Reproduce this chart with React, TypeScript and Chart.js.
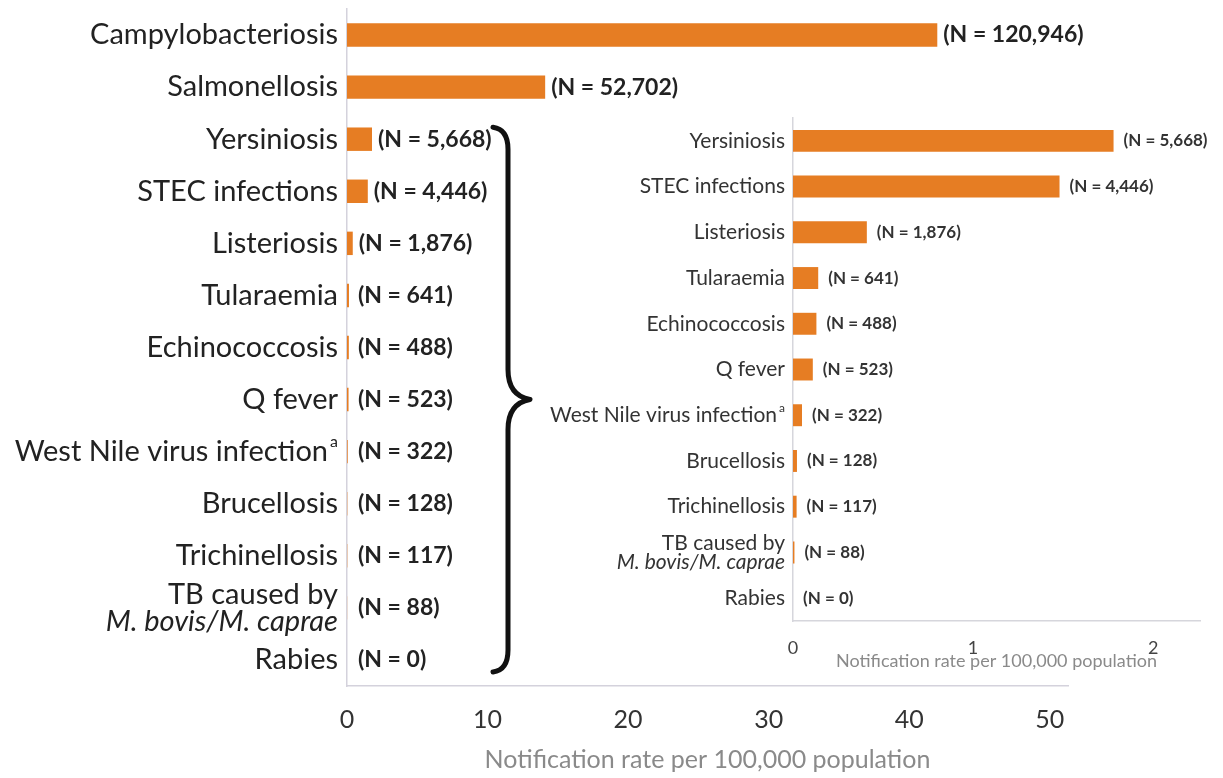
import React, { useEffect, useRef } from "react";
import { Chart, registerables } from "chart.js";

Chart.register(...registerables);

// ---------- data ----------
const mainCategories: (string | string[])[] = [
  "Campylobacteriosis",
  "Salmonellosis",
  "Yersiniosis",
  "STEC infections",
  "Listeriosis",
  "Tularaemia",
  "Echinococcosis",
  "Q fever",
  "West Nile virus infection",
  "Brucellosis",
  "Trichinellosis",
  ["TB caused by", "M. bovis/M. caprae"],
  "Rabies",
];
const mainRates = [42.0, 14.1, 1.78, 1.48, 0.41, 0.14, 0.13, 0.11, 0.05, 0.022, 0.02, 0.008, 0];
const mainCounts = [120946, 52702, 5668, 4446, 1876, 641, 488, 523, 322, 128, 117, 88, 0];
const mainTicks = [0, 10, 20, 30, 40, 50];

const insetCategories: (string | string[])[] = [
  "Yersiniosis",
  "STEC infections",
  "Listeriosis",
  "Tularaemia",
  "Echinococcosis",
  "Q fever",
  "West Nile virus infection",
  "Brucellosis",
  "Trichinellosis",
  ["TB caused by", "M. bovis/M. caprae"],
  "Rabies",
];
const insetRates = [1.78, 1.48, 0.41, 0.14, 0.13, 0.11, 0.05, 0.022, 0.02, 0.008, 0];
const insetCounts = [5668, 4446, 1876, 641, 488, 523, 322, 128, 117, 88, 0];
const insetTicks = [0, 1, 2];

const footnoteMarks: Record<string, string> = { "West Nile virus infection": "a" };
const axisTitle = "Notification rate per 100,000 population";

const BAR = "rgb(230,125,35)";
const FONT = "Lato, 'Open Sans', sans-serif";

// ---------- plugins ----------
function yLabelPlugin(o: { labels: (string | string[])[]; size: number; gap: number; lineHeight: number; color: string }) {
  return {
    id: "customYLabels",
    afterDraw(chart: any) {
      const ctx = chart.ctx;
      const ys = chart.scales.y;
      const x0 = chart.chartArea.left - o.gap;
      ctx.save();
      ctx.fillStyle = o.color;
      ctx.textAlign = "right";
      ctx.textBaseline = "middle";
      o.labels.forEach((lab, i) => {
        const py = ys.getPixelForValue(i);
        const lines = Array.isArray(lab) ? lab : [lab];
        lines.forEach((line, j) => {
          const ly = py + (j - (lines.length - 1) / 2) * o.lineHeight;
          const mark = footnoteMarks[line];
          let x = x0;
          if (mark) {
            ctx.font = `${Math.round(o.size * 0.55)}px ${FONT}`;
            const mw = ctx.measureText(mark).width;
            ctx.fillText(mark, x, ly - o.size * 0.35);
            x -= mw + 2;
          }
          ctx.font = `${j > 0 ? "italic " : ""}${o.size}px ${FONT}`;
          ctx.fillText(line, x, ly);
        });
      });
      ctx.restore();
    },
  };
}

function countLabelPlugin(o: { counts: number[]; size: number; gap: number; minOffset: number; color: string }) {
  return {
    id: "countLabels",
    afterDatasetsDraw(chart: any) {
      const ctx = chart.ctx;
      const meta = chart.getDatasetMeta(0);
      const left = chart.chartArea.left;
      ctx.save();
      ctx.fillStyle = o.color;
      ctx.textAlign = "left";
      ctx.textBaseline = "middle";
      ctx.font = `bold ${o.size}px ${FONT}`;
      meta.data.forEach((bar: any, i: number) => {
        const x = Math.max(bar.x + o.gap, left + o.minOffset);
        ctx.fillText(`(N = ${o.counts[i].toLocaleString("en-US")})`, x, bar.y);
      });
      ctx.restore();
    },
  };
}

const bracePlugin = {
  id: "brace",
  afterDraw(chart: any) {
    const ctx = chart.ctx;
    const ys = chart.scales.y;
    const top = ys.getPixelForValue(2) - 12;
    const bot = ys.getPixelForValue(12) + 12;
    const mid = (top + bot) / 2;
    const sx = chart.chartArea.left + 161;
    const lx = sx - 15;
    const tx = sx + 22;
    ctx.save();
    ctx.strokeStyle = "#111";
    ctx.lineWidth = 5;
    ctx.lineCap = "round";
    ctx.lineJoin = "round";
    ctx.beginPath();
    ctx.moveTo(lx, top);
    ctx.quadraticCurveTo(sx, top + 2, sx, top + 22);
    ctx.lineTo(sx, mid - 30);
    ctx.quadraticCurveTo(sx, mid - 4, tx, mid);
    ctx.quadraticCurveTo(sx, mid + 4, sx, mid + 30);
    ctx.lineTo(sx, bot - 22);
    ctx.quadraticCurveTo(sx, bot - 2, lx, bot);
    ctx.stroke();
    ctx.restore();
  },
};

// ---------- component ----------
export default function App() {
  const mainRef = useRef<HTMLCanvasElement>(null);
  const insetRef = useRef<HTMLCanvasElement>(null);

  useEffect(() => {
    Chart.defaults.font.family = FONT;
    const main = new Chart(mainRef.current!, {
      type: "bar",
      data: {
        labels: mainCategories.map((c) => (Array.isArray(c) ? c.join(" ") : c)),
        datasets: [
          {
            data: mainRates,
            backgroundColor: BAR,
            borderWidth: 0,
            categoryPercentage: 1,
            barPercentage: 0.45,
          },
        ],
      },
      options: {
        indexAxis: "y",
        animation: false,
        responsive: false,
        layout: { padding: { top: 9, right: 155, bottom: 0, left: 0 } },
        plugins: { legend: { display: false }, tooltip: { enabled: false } },
        scales: {
          y: {
            ticks: { display: false },
            grid: { display: false },
            border: { display: true, color: "#d4d2dc", width: 1.5 },
            afterFit: (s: any) => {
              s.width = 347;
            },
          },
          x: {
            type: "linear",
            min: 0,
            max: 51.3,
            afterBuildTicks: (s: any) => {
              s.ticks = mainTicks.map((v) => ({ value: v }));
            },
            ticks: { color: "#333", font: { size: 25 }, padding: 11, maxRotation: 0 },
            grid: { display: false },
            border: { display: true, color: "#d4d2dc", width: 1.5 },
            title: {
              display: true,
              text: axisTitle,
              color: "#8a8a8a",
              font: { size: 25 },
              padding: { top: 0, bottom: 3 },
            },
            afterFit: (s: any) => {
              s.height = 92;
            },
          },
        },
      },
      plugins: [
        yLabelPlugin({ labels: mainCategories, size: 29, gap: 9, lineHeight: 27, color: "#222" }),
        countLabelPlugin({ counts: mainCounts, size: 23, gap: 6, minOffset: 11, color: "#222" }),
        bracePlugin,
      ],
    } as any);

    const inset = new Chart(insetRef.current!, {
      type: "bar",
      data: {
        labels: insetCategories.map((c) => (Array.isArray(c) ? c.join(" ") : c)),
        datasets: [
          {
            data: insetRates,
            backgroundColor: BAR,
            borderWidth: 0,
            categoryPercentage: 1,
            barPercentage: 0.48,
          },
        ],
      },
      options: {
        indexAxis: "y",
        animation: false,
        responsive: false,
        layout: { padding: { top: 18, right: 23, bottom: 0, left: 0 } },
        plugins: { legend: { display: false }, tooltip: { enabled: false } },
        scales: {
          y: {
            ticks: { display: false },
            grid: { display: false },
            border: { display: true, color: "#d6d6dc", width: 1.5 },
            afterFit: (s: any) => {
              s.width = 273;
            },
          },
          x: {
            type: "linear",
            min: 0,
            max: 2.26,
            afterBuildTicks: (s: any) => {
              s.ticks = insetTicks.map((v) => ({ value: v }));
            },
            ticks: { color: "#444", font: { size: 18 }, padding: 8, maxRotation: 0 },
            grid: { display: false },
            border: { display: true, color: "#d6d6dc", width: 1.5 },
            title: {
              display: true,
              text: axisTitle,
              color: "#8a8a8a",
              font: { size: 18 },
              padding: { top: 0, bottom: 8 },
            },
            afterFit: (s: any) => {
              s.height = 59;
            },
          },
        },
      },
      plugins: [
        yLabelPlugin({ labels: insetCategories, size: 21, gap: 8, lineHeight: 19, color: "#333" }),
        countLabelPlugin({ counts: insetCounts, size: 17, gap: 10, minOffset: 8, color: "#333" }),
      ],
    } as any);

    return () => {
      main.destroy();
      inset.destroy();
    };
  }, []);

  return (
    <div style={{ position: "absolute", left: 0, top: 0, width: 1223, height: 778, background: "#fff" }}>
      <canvas ref={mainRef} width={1223} height={778} style={{ position: "absolute", left: 0, top: 0 }} />
      <canvas ref={insetRef} width={703} height={580} style={{ position: "absolute", left: 520, top: 100 }} />
    </div>
  );
}
